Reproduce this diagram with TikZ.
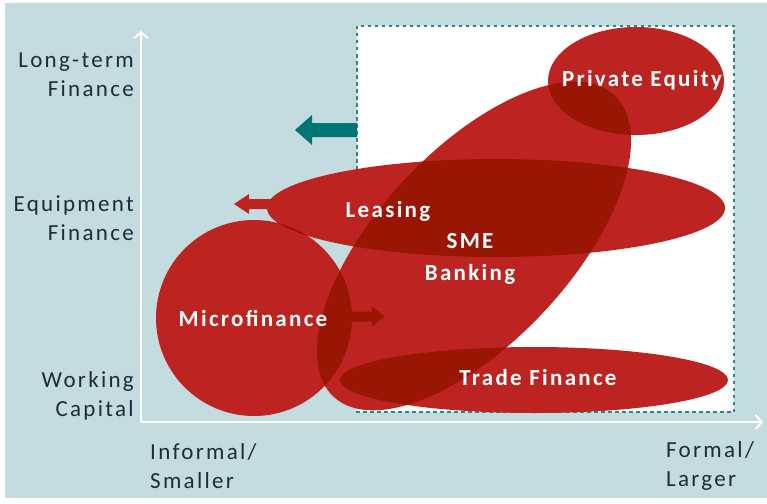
\documentclass[tikz,border=0pt]{standalone}
\usepackage{fontspec}
\setmainfont{Carlito}
\newfontfamily\labelfont[LetterSpace=10]{Carlito}
\usetikzlibrary{arrows.meta}

\definecolor{panel}{RGB}{196,219,223}
\definecolor{fin}{RGB}{189,35,32}
\definecolor{findark}{RGB}{154,22,4}
\definecolor{tealarrow}{RGB}{0,117,117}
\definecolor{tealdash}{RGB}{40,135,135}
\definecolor{axislabel}{RGB}{32,42,58}

% outlines of the financing segments
\newcommand\segPE{(636,81) ellipse [x radius=88, y radius=54]}
\newcommand\segLease{(496,208) ellipse [x radius=229, y radius=49]}
\newcommand\segLeaseArrow{(234,204) -- (249,194) -- (249,199) -- (300,199) -- (300,209) -- (249,209) -- (249,214) -- cycle}
\newcommand\segSME{[shift={(474,246)},rotate=47] (0,0) ellipse [x radius=206, y radius=96]}
\newcommand\segMicro{(254,318) circle [radius=98]}
\newcommand\segMicroArrow{(330,311.5) -- (372,311.5) -- (372,306.5) -- (385,316.5) -- (372,326.5) -- (372,321.5) -- (330,321.5) -- cycle}
\newcommand\segTrade{(534,380) ellipse [x radius=194, y radius=33]}

% darken the overlap of two segments
\newcommand\overlapfill[2]{\begin{scope}\clip #1; \fill[findark] #2;\end{scope}}

\tikzset{
  axlab/.style={font=\labelfont\fontsize{23}{29}\selectfont, text=axislabel, inner sep=0pt},
  seglab/.style={font=\labelfont\bfseries\fontsize{23}{32}\selectfont, text=white, inner sep=0pt, align=center},
  axisline/.style={draw=white, line width=2.4pt, -{Straight Barb[length=6pt,width=14pt,line width=2pt]}},
  boundary/.style={draw=tealdash, line width=2.6pt, dash pattern=on 3.5pt off 3.5pt},
}

\begin{document}
\begin{tikzpicture}[x=1pt,y=-1pt]
  \useasboundingbox (0,0) rectangle (767,503);
  \fill[white] (0,0) rectangle (767,503);
  \fill[panel] (5,3) rectangle (767,498);

  % formal-sector zone
  \fill[white] (357,26) rectangle (734,412);
  \draw[boundary] (357,26) rectangle (734,412);
  \fill[tealarrow] (295,130) -- (312,115) -- (312,123) -- (357,123) -- (357,137) -- (312,137) -- (312,145) -- cycle;

  % axes
  \coordinate (origin) at (141,422);
  \coordinate (ytip) at (141,31);
  \coordinate (xtip) at (763,422);
  \draw[axisline] (origin) -- (ytip);
  \draw[axisline] (origin) -- (xtip);

  % segments
  \fill[fin] \segPE;
  \fill[fin] \segLease;
  \fill[fin] \segLeaseArrow;
  \fill[fin] \segSME;
  \fill[fin] \segMicro;
  \fill[fin] \segMicroArrow;
  \fill[fin] \segTrade;

  % overlaps
  \overlapfill{\segSME}{\segPE}
  \overlapfill{\segSME}{\segLease}
  \overlapfill{\segSME}{\segMicro}
  \overlapfill{\segSME}{\segMicroArrow}
  \overlapfill{\segSME}{\segTrade}
  \overlapfill{\segLease}{\segMicro}

  % segment labels
  \node[seglab] (pe) at (642,80) {Private Equity};
  \node[seglab] (leasing) at (388,211) {Leasing};
  \node[seglab] (sme) at (470,259) {SME\\Banking};
  \node[seglab] (micro) at (253,318) {Microfinance};
  \node[seglab] (trade) at (538,378) {Trade Finance};

  % axis labels
  \node[axlab, anchor=east, align=right] (ylong) at (134,75) {Long-term\\Finance};
  \node[axlab, anchor=east, align=right] (yequip) at (134,218) {Equipment\\Finance};
  \node[axlab, anchor=east, align=right] (ywork) at (134,396) {Working\\Capital};
  \node[axlab, anchor=west, align=left] (xinformal) at (150,466) {Informal/\\Smaller};
  \node[axlab, anchor=west, align=left] (xformal) at (666,466) {Formal/\\Larger};
\end{tikzpicture}
\end{document}
